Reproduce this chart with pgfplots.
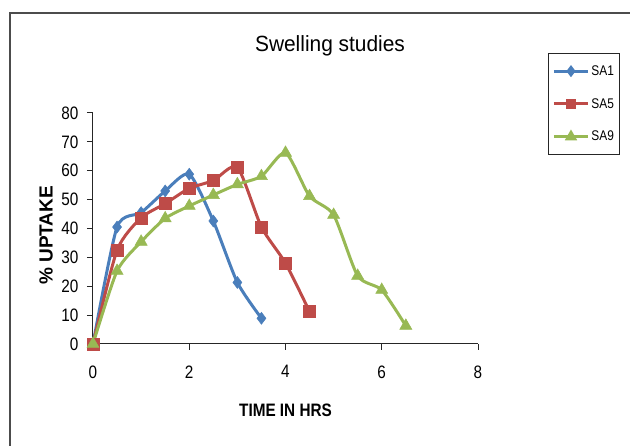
\documentclass[border=0pt]{standalone}
\usepackage{fontspec}
\setmainfont{Liberation Sans}
\newfontfamily\narrow[FakeStretch=0.85]{Liberation Sans}
\newfontfamily\titlefont[FakeStretch=0.95]{Liberation Sans}
\usepackage{pgfplots}
\pgfplotsset{compat=1.18}
\definecolor{saone}{HTML}{4A7EBB}
\definecolor{safive}{HTML}{BE4B48}
\definecolor{sanine}{HTML}{98B954}
\begin{document}
\begin{tikzpicture}
\useasboundingbox (0pt,0pt) rectangle (630pt,446pt);
\clip (0pt,0pt) rectangle (630pt,446pt);
% outer chart frame (cut off on right and bottom)
\draw[line width=1.3pt, black!70] (10pt,-10pt) -- (10pt,433pt) -- (650pt,433pt);
\node[font=\titlefont\fontsize{22}{26}\selectfont] at (330pt,400pt) {Swelling studies};
\begin{axis}[
    at={(93pt,102pt)}, anchor=origin,
    scale only axis, width=385pt, height=231pt,
    xmin=0, xmax=8, ymin=0, ymax=80,
    xtick={0,2,...,8}, ytick={0,10,...,80},
    axis lines*=left,
    axis line style={black!85, line width=1pt},
    tick style={black!85, line width=1pt},
    tick align=outside, major tick length=6pt,
    /pgf/number format/assume math mode=true,
    ticklabel style={font=\narrow\fontsize{18}{20}\selectfont},
    xticklabel style={yshift=-12pt},
    yticklabel style={xshift=-5pt},
    xlabel={\textbf{TIME IN HRS}},
    ylabel={\textbf{\% UPTAKE}},
    xlabel style={font=\narrow\fontsize{18}{20}\selectfont, at={(axis description cs:0.5,-0.2857)}, anchor=center},
    ylabel style={font=\fontsize{19}{21}\selectfont, at={(axis description cs:-0.122,0.47)}, anchor=center},
    legend style={at={(axis description cs:1.1818,1.2597)}, anchor=north west,
        draw=black!85, line width=1pt, font=\narrow\fontsize{14}{16}\selectfont,
        inner xsep=4pt, inner ysep=10pt, row sep=17.5pt},
    legend cell align=left,
    legend image code/.code={\draw[#1, mark repeat=2, mark phase=2, mark options={scale=0.6}] plot coordinates {(0pt,0pt) (17pt,0pt) (34pt,0pt)};},
    every axis plot/.append style={line width=3pt, smooth, tension=0.4},
]
\addplot[saone, mark=diamond*, mark size=6pt, mark options={line width=0.5pt}] coordinates {
    (0,0) (0.5,40.5) (1,45.5) (1.5,53) (2,58.8) (2.5,42.6) (3,21.3) (3.5,8.9)
};
\addlegendentry{SA1}
\addplot[safive, mark=square*, mark size=6pt, mark options={line width=0.5pt}] coordinates {
    (0,0) (0.5,32.5) (1,43.7) (1.5,48.6) (2,53.9) (2.5,56.6) (3,61.2) (3.5,40.5) (4,28) (4.5,11.2)
};
\addlegendentry{SA5}
\addplot[sanine, mark=triangle*, mark size=7pt, mark options={line width=0.5pt}] coordinates {
    (0,0) (0.5,25.3) (1,35.4) (1.5,43.5) (2,47.8) (2.5,51.6) (3,55.3) (3.5,58.1) (4,66.2) (4.5,51.2) (5,44.7) (5.5,23.6) (6,18.7) (6.5,6.3)
};
\addlegendentry{SA9}
\end{axis}
\end{tikzpicture}
\end{document}
